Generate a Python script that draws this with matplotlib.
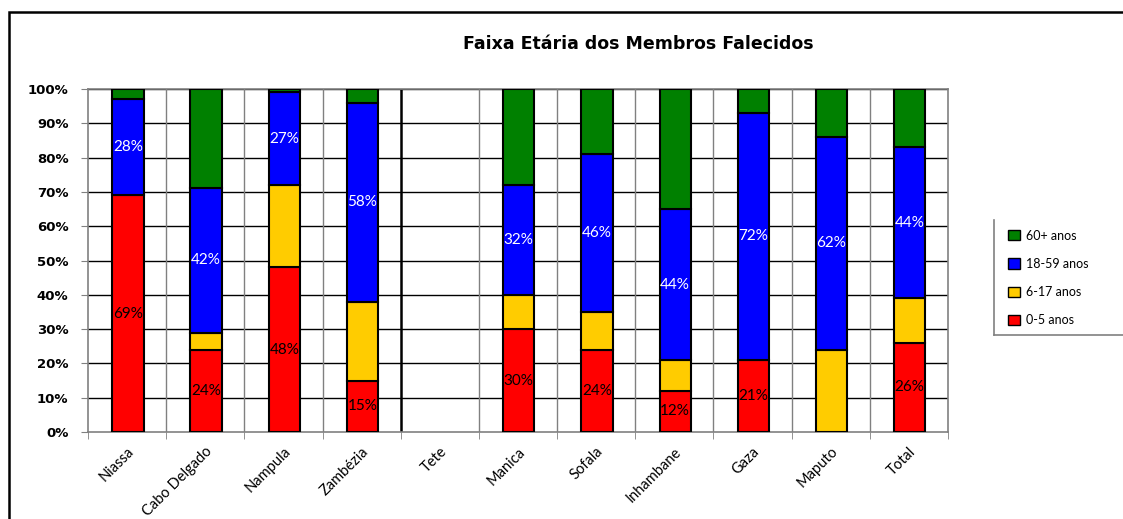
import matplotlib
matplotlib.use("Agg")
import matplotlib.pyplot as plt
from matplotlib.patches import Rectangle, Patch
from matplotlib.lines import Line2D

plt.rcParams['font.family'] = ['Lato', 'DejaVu Sans']

categories = ["Niassa", "Cabo Delgado", "Nampula", "Zambézia", "Tete", "Manica",
              "Sofala", "Inhambane", "Gaza", "Maputo", "Total"]
age_0_5 = [69, 24, 48, 15, 0, 30, 24, 12, 21, 0, 26]
age_6_17 = [0, 5, 24, 23, 0, 10, 11, 9, 0, 24, 13]
age_18_59 = [28, 42, 27, 58, 0, 32, 46, 44, 72, 62, 44]
age_60 = [3, 29, 1, 4, 0, 28, 19, 35, 7, 14, 17]
series_names = ["0-5 anos", "6-17 anos", "18-59 anos", "60+ anos"]
colors = ["#FF0000", "#FFCC00", "#0000FF", "#008000"]
label_series = {0: "black", 2: "white"}
yticks = [0, 10, 20, 30, 40, 50, 60, 70, 80, 90, 100]

W, H = 1123, 519
fig = plt.figure(figsize=(W / 100, H / 100), dpi=100)
ax = fig.add_axes([88 / W, 1 - 432 / H, (948 - 88) / W, (432 - 89) / H])

x = list(range(len(categories)))
series = [age_0_5, age_6_17, age_18_59, age_60]
bottom = [0] * len(categories)
for i, (vals, col) in enumerate(zip(series, colors)):
    xs = [xi + 0.01 for xi, v in zip(x, vals) if v > 0]
    hs = [v for v in vals if v > 0]
    bs = [b for b, v in zip(bottom, vals) if v > 0]
    ax.bar(xs, hs, width=0.4, bottom=bs, color=col,
           edgecolor="black", linewidth=1.5, zorder=3)
    if i in label_series:
        for xi, v, b in zip(xs, hs, bs):
            ax.text(xi, b + v / 2, f"{v}%", ha="center", va="center",
                    fontsize=11, color=label_series[i], zorder=5)
    bottom = [b + v for b, v in zip(bottom, vals)]

ax.set_xlim(-0.5, len(categories) - 0.5)
ax.set_ylim(0, 100)

# grid
for yv in yticks[1:]:
    ax.axhline(yv, color="black", lw=1.0, zorder=1)
for k in range(1, len(categories)):
    c = "black" if k == 4 else "#808080"
    lw = 1.8 if k == 4 else 1.0
    ax.axvline(k - 0.5, color=c, lw=lw, zorder=1)

for s in ["left", "bottom", "right", "top"]:
    ax.spines[s].set_color("#808080")
    ax.spines[s].set_linewidth(1.2)

ax.set_yticks(yticks)
ax.set_yticklabels([f"{t}%" for t in yticks], fontsize=9.5, fontweight="bold",
                   family="DejaVu Sans")
ax.tick_params(axis="y", length=5, color="#808080", pad=9)

ax.set_xticks(x)
ax.set_xticklabels(categories, rotation=45, ha="right", rotation_mode="anchor",
                   fontsize=10.5)
ax.tick_params(axis="x", length=0, pad=9)
ax.set_xticks([k - 0.5 for k in range(len(categories) + 1)], minor=True)
ax.tick_params(axis="x", which="minor", length=5, color="#808080")

fig.text(638 / W, 1 - 44 / H, "Faixa Etária dos Membros Falecidos", ha="center",
         va="center", fontsize=12.5, fontweight="bold", family="DejaVu Sans")

handles = [Patch(facecolor=colors[i], edgecolor="black", label=series_names[i])
           for i in [3, 2, 1, 0]]
leg = fig.legend(handles=handles, loc="upper left",
                 bbox_to_anchor=(1001 / W, 1 - 222 / H), frameon=False,
                 fontsize=9, handlelength=0.9, handleheight=0.9,
                 labelspacing=1.3, borderpad=0.6, handletextpad=0.5,
                 borderaxespad=0)
# legend box (left and bottom edges visible, right clipped by image edge)
fig.add_artist(Line2D([994 / W, 994 / W], [1 - 220 / H, 1 - 335 / H],
                      transform=fig.transFigure, color="#808080", lw=1.2))
fig.add_artist(Line2D([994 / W, 1.0], [1 - 335 / H, 1 - 335 / H],
                      transform=fig.transFigure, color="#808080", lw=1.2))

fig.add_artist(Rectangle((9 / W, -0.1), 1.2, 1.1 - 12 / H, transform=fig.transFigure,
                         fill=False, edgecolor="black", linewidth=1.8))

fig.savefig("out.png", dpi=100)
